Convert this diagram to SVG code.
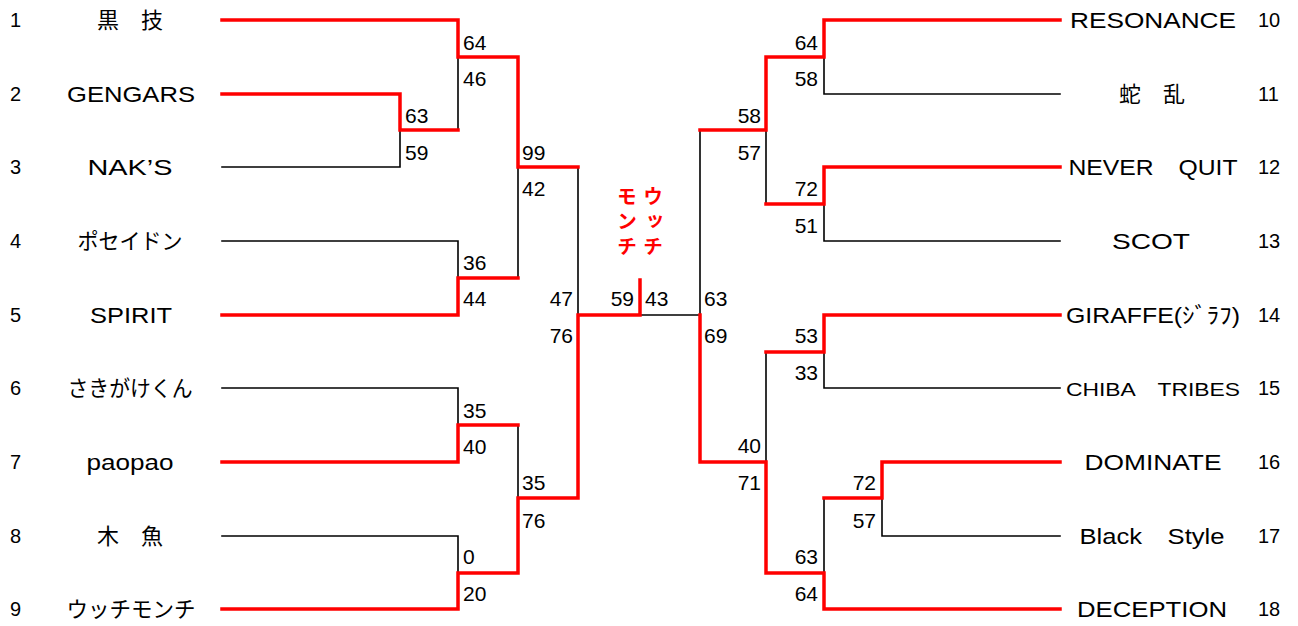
<svg xmlns="http://www.w3.org/2000/svg" width="1298" height="626" viewBox="0 0 1298 626">
<style>
.r{fill:none;stroke:#ff0000;stroke-width:3.5;stroke-linecap:square}
.k{fill:none;stroke:#000;stroke-width:1.6;stroke-linecap:square}
text{font-family:"Liberation Sans","Noto Sans CJK JP",sans-serif;fill:#000}
.n{font-size:20px}
.s{font-size:21px}
.t{font-size:22px;text-anchor:middle}
.ra{text-anchor:end}
.w{font-size:20px;font-weight:bold;fill:#ff0000;font-family:"Noto Sans CJK JP",sans-serif;writing-mode:vertical-rl;letter-spacing:5px}
</style>
<rect width="1298" height="626" fill="#fff"/>
<g id="connectors">
<path class="k" d="M222,167H400V130M458,57V130M518,167V278M222,241H458V278M578,167V315M222,388H458V425M518,425V498M222,536H458V573M640,315H700M700,130V315M766,130V204M824,57V94H1060M824,204V241H1060M766,352V462M824,352V388H1060M824,498V573M882,498V536H1060"/>
<path class="r" d="M222,20H458V57H518V167H578M222,94H400V130H458M222,315H458V278H518M222,462H458V425H518M222,609H458V573H518V498H578V315H640V280M700,315V462H766V573H824V609H1060M700,130H766V57H824V20H1060M1060,167H824V204H766M1060,315H824V352H766M1060,462H882V498H824"/>
</g>
<g id="scores">
<text class="s" x="463" y="50">64</text>
<text class="s" x="463" y="86">46</text>
<text class="s" x="405" y="123">63</text>
<text class="s" x="405" y="160">59</text>
<text class="s" x="522" y="160">99</text>
<text class="s" x="522" y="196">42</text>
<text class="s" x="463" y="270">36</text>
<text class="s" x="463" y="306">44</text>
<text class="s ra" x="573" y="306">47</text>
<text class="s ra" x="573" y="343">76</text>
<text class="s" x="463" y="418">35</text>
<text class="s" x="463" y="454">40</text>
<text class="s" x="522" y="490">35</text>
<text class="s" x="522" y="528">76</text>
<text class="s" x="463" y="564">0</text>
<text class="s" x="463" y="601">20</text>
<text class="s ra" x="634" y="306">59</text>
<text class="s" x="645" y="306">43</text>
<text class="s" x="704" y="306">63</text>
<text class="s" x="704" y="343">69</text>
<text class="s ra" x="761" y="123">58</text>
<text class="s ra" x="761" y="160">57</text>
<text class="s ra" x="818" y="50">64</text>
<text class="s ra" x="818" y="86">58</text>
<text class="s ra" x="818" y="196">72</text>
<text class="s ra" x="818" y="233">51</text>
<text class="s ra" x="818" y="343">53</text>
<text class="s ra" x="818" y="380">33</text>
<text class="s ra" x="761" y="453">40</text>
<text class="s ra" x="761" y="490">71</text>
<text class="s ra" x="876" y="490">72</text>
<text class="s ra" x="876" y="528">57</text>
<text class="s ra" x="818" y="564">63</text>
<text class="s ra" x="818" y="601">64</text>
</g>
<g id="champion">
<text class="w" x="653" y="186">ウッチ</text>
<text class="w" x="627" y="186">モンチ</text>
</g>
<g id="team1"><text class="n" x="10" y="27">1</text><text class="t" x="130" y="28" textLength="66" lengthAdjust="spacingAndGlyphs">黒　技</text></g>
<g id="team2"><text class="n" x="10" y="101">2</text><text class="t" x="131" y="102" textLength="128" lengthAdjust="spacingAndGlyphs">GENGARS</text></g>
<g id="team3"><text class="n" x="10" y="174">3</text><text class="t" x="130" y="175" textLength="85" lengthAdjust="spacingAndGlyphs">NAK’S</text></g>
<g id="team4"><text class="n" x="10" y="248">4</text><text class="t" x="130" y="249" textLength="105" lengthAdjust="spacingAndGlyphs">ポセイドン</text></g>
<g id="team5"><text class="n" x="10" y="322">5</text><text class="t" x="131" y="323" textLength="82" lengthAdjust="spacingAndGlyphs">SPIRIT</text></g>
<g id="team6"><text class="n" x="10" y="395">6</text><text class="t" x="130" y="396" textLength="125" lengthAdjust="spacingAndGlyphs">さきがけくん</text></g>
<g id="team7"><text class="n" x="10" y="469">7</text><text class="t" x="130" y="470" textLength="87" lengthAdjust="spacingAndGlyphs">paopao</text></g>
<g id="team8"><text class="n" x="10" y="543">8</text><text class="t" x="130" y="544" textLength="66" lengthAdjust="spacingAndGlyphs">木　魚</text></g>
<g id="team9"><text class="n" x="10" y="616">9</text><text class="t" x="131" y="617" textLength="129" lengthAdjust="spacingAndGlyphs">ウッチモンチ</text></g>
<g id="team10"><text class="t" x="1153" y="28" textLength="166" lengthAdjust="spacingAndGlyphs">RESONANCE</text><text class="n" x="1258" y="27">10</text></g>
<g id="team11"><text class="t" x="1152" y="102" textLength="66" lengthAdjust="spacingAndGlyphs">蛇　乱</text><text class="n" x="1258" y="101">11</text></g>
<g id="team12"><text class="t" x="1153" y="175" textLength="169" lengthAdjust="spacingAndGlyphs">NEVER　QUIT</text><text class="n" x="1258" y="174">12</text></g>
<g id="team13"><text class="t" x="1151" y="249" textLength="78" lengthAdjust="spacingAndGlyphs">SCOT</text><text class="n" x="1258" y="248">13</text></g>
<g id="team14"><text class="t" x="1153" y="323" textLength="174" lengthAdjust="spacingAndGlyphs">GIRAFFE(ｼﾞﾗﾌ)</text><text class="n" x="1258" y="322">14</text></g>
<g id="team15"><text class="t" x="1153" y="396" textLength="174" lengthAdjust="spacingAndGlyphs" style="font-size:19px">CHIBA　TRIBES</text><text class="n" x="1258" y="395">15</text></g>
<g id="team16"><text class="t" x="1153" y="470" textLength="137" lengthAdjust="spacingAndGlyphs">DOMINATE</text><text class="n" x="1258" y="469">16</text></g>
<g id="team17"><text class="t" x="1152" y="544" textLength="145" lengthAdjust="spacingAndGlyphs">Black　Style</text><text class="n" x="1258" y="543">17</text></g>
<g id="team18"><text class="t" x="1152" y="617" textLength="150" lengthAdjust="spacingAndGlyphs">DECEPTION</text><text class="n" x="1258" y="616">18</text></g>
</svg>
